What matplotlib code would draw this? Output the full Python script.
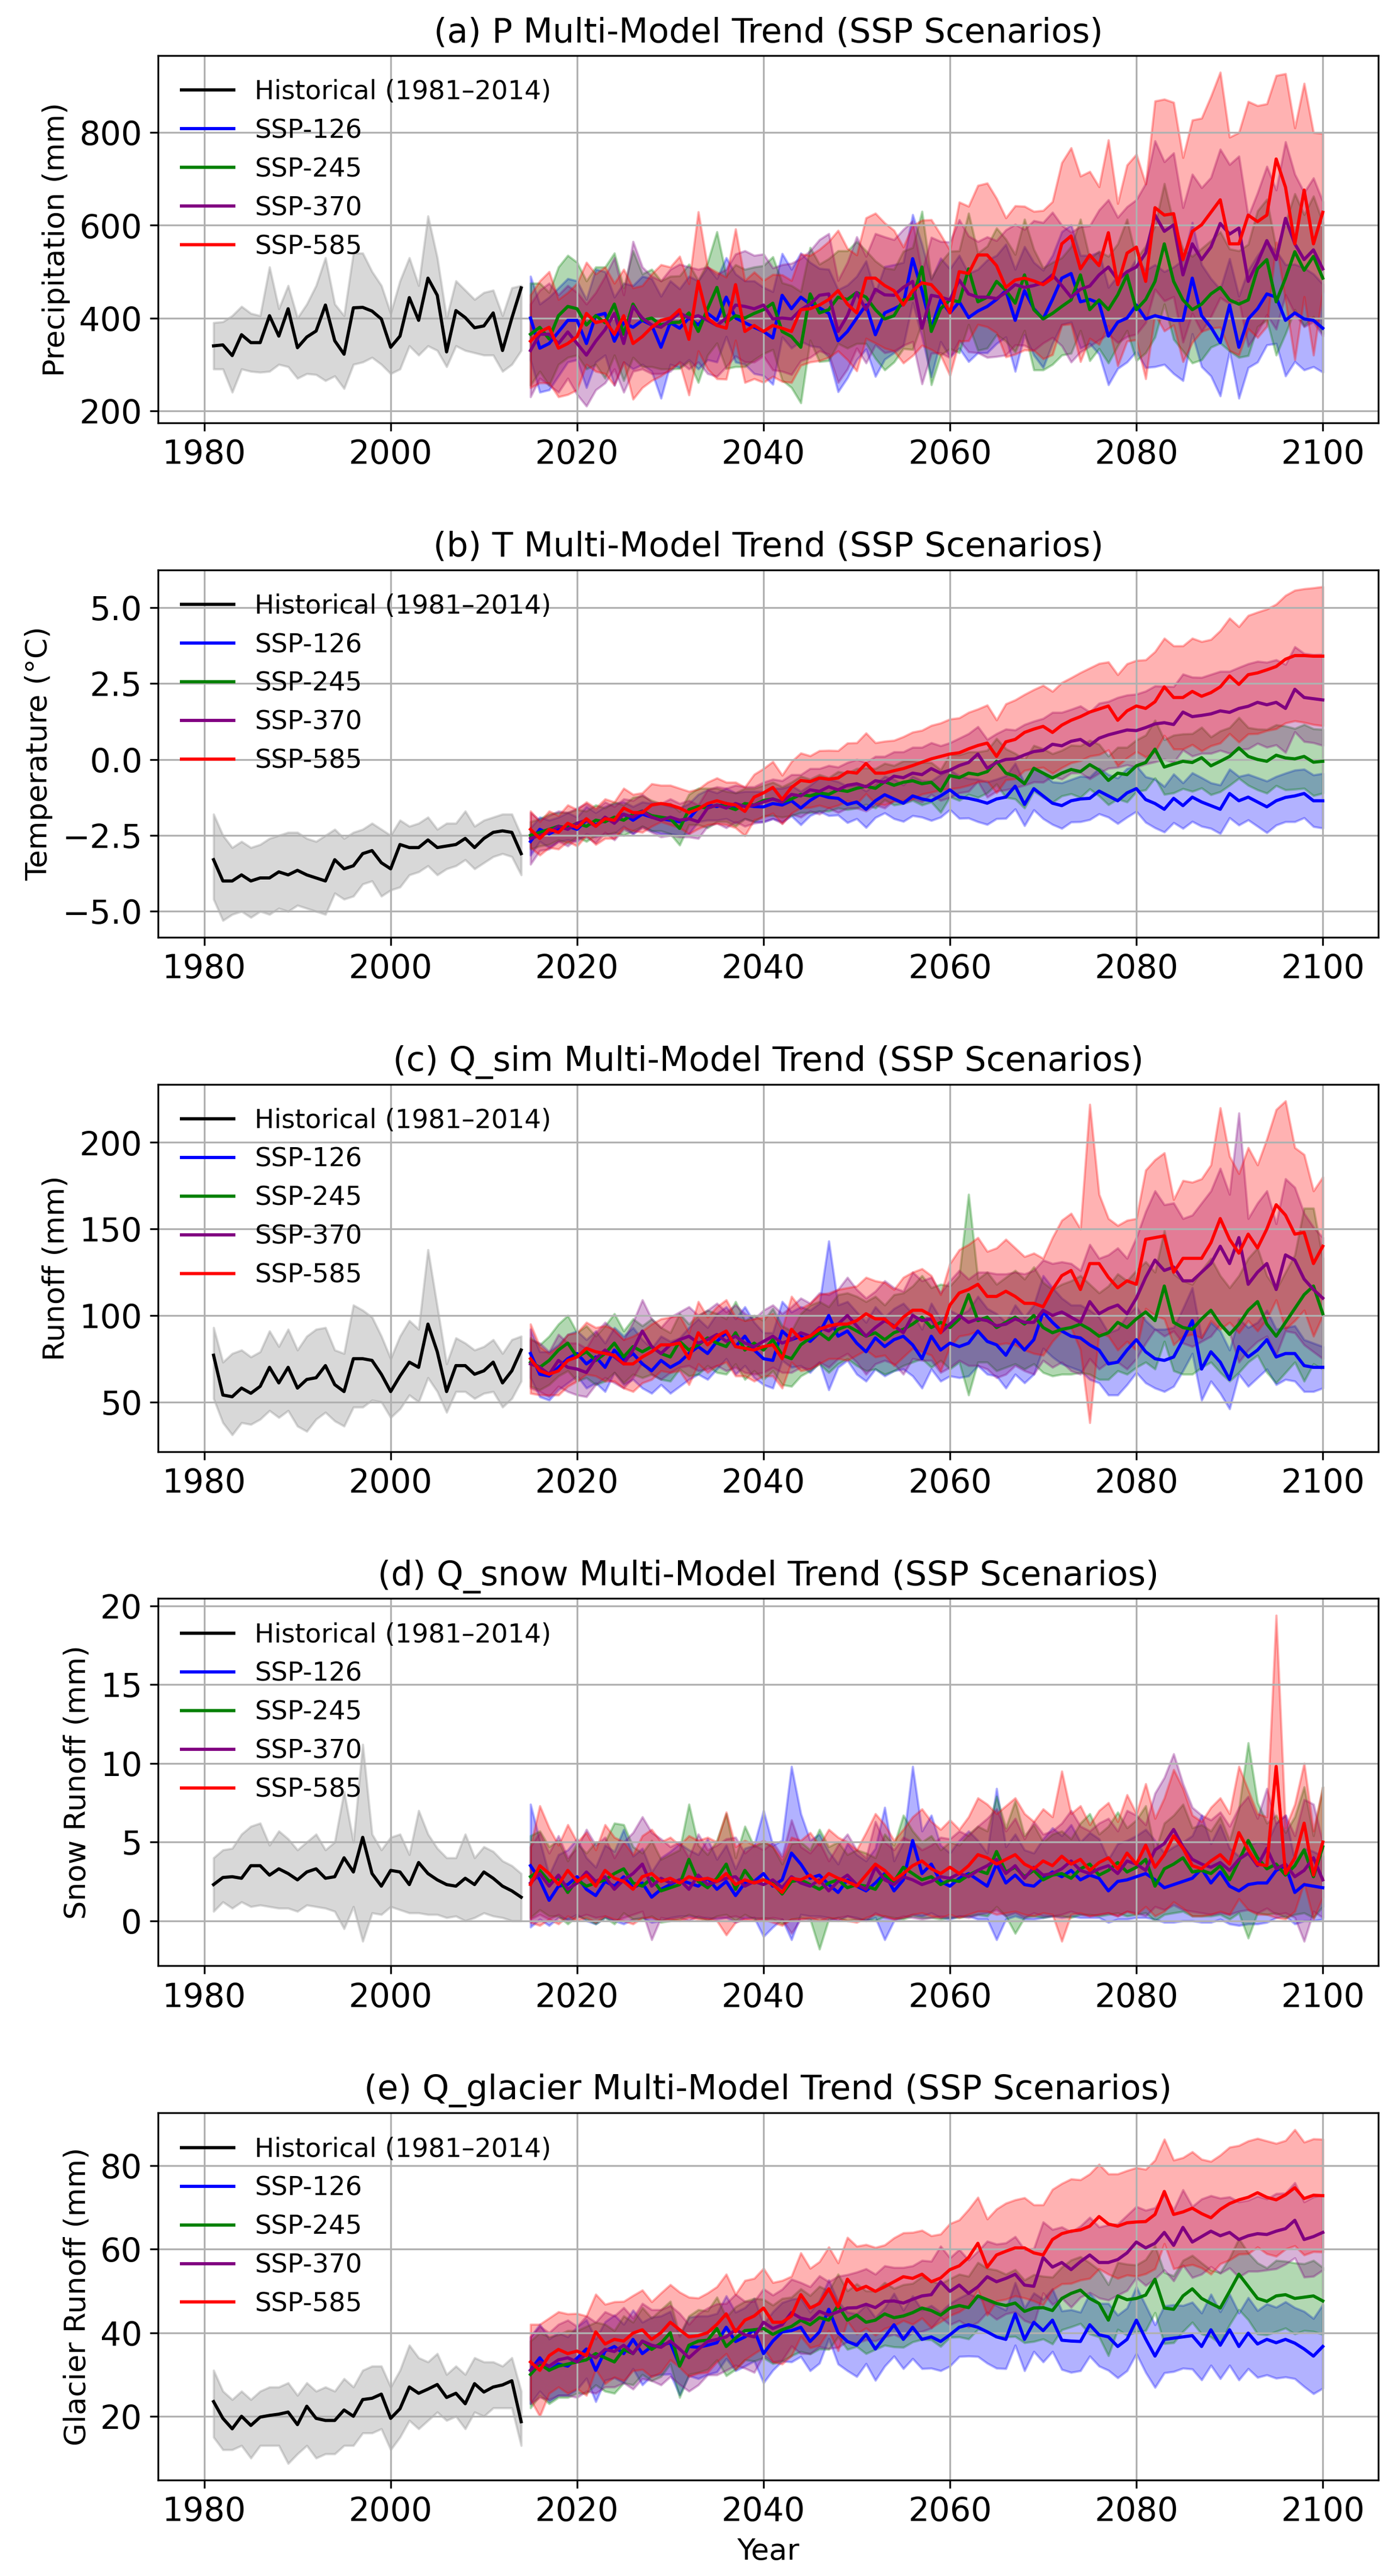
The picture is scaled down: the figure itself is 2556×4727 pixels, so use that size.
import numpy as np
import matplotlib
matplotlib.use("Agg")
import matplotlib.pyplot as plt

# years
years_hist = list(range(1981, 2015))
years_ssp = list(range(2015, 2101))
scenarios = ['SSP-126', 'SSP-245', 'SSP-370', 'SSP-585']
colors = ['blue', 'green', 'purple', 'red']

# ---------------- (a) precipitation ----------------
P_HIST = [340, 342, 319, 364, 347, 347, 405, 361, 420, 336, 359, 372, 428, 351, 322, 422, 423,
          415, 398, 337, 361, 444, 395, 486, 449, 327, 416, 401, 379, 383, 411, 330, 400, 465]
P_HIST_LO = [290, 290, 240, 290, 285, 283, 285, 300, 295, 270, 280, 278, 265, 275, 248, 300, 305,
             315, 300, 280, 290, 340, 320, 340, 330, 295, 340, 330, 325, 320, 320, 285, 300, 330]
P_HIST_HI = [390, 392, 405, 425, 410, 405, 510, 420, 470, 400, 430, 470, 530, 430, 405, 540, 540,
             500, 470, 410, 480, 530, 470, 620, 530, 400, 480, 460, 440, 455, 460, 405, 465, 470]

P_126 = [400, 335, 345, 370, 395, 395, 345, 405, 410, 350, 390, 380, 395, 385, 337, 390,
         378, 400, 385, 410, 395, 445, 400, 390, 380, 371,
         357, 449, 420, 445, 430, 422, 410, 351, 371, 400,
         428, 364, 411, 420, 430, 528, 459, 378, 439, 411,
         435, 401, 415, 425, 440, 459, 395, 459, 420, 398,
         440, 486, 496, 435, 440, 432, 361, 391, 400, 428,
         398, 405, 400, 395, 395, 486, 405, 380, 347, 428,
         337, 398, 420, 452, 445, 395, 411, 398, 395, 378]
P_245 = [365, 380, 355, 405, 425, 420, 385, 405, 390, 430, 365, 430, 395, 400, 385, 390,
         391, 411, 371, 420, 466, 391, 405, 400, 410, 418,
         432, 371, 360, 337, 452, 411, 418, 445, 440, 455,
         445, 418, 398, 405, 439, 442, 510, 371, 420, 439,
         435, 506, 435, 445, 479, 460, 432, 493, 418, 398,
         410, 425, 439, 493, 418, 439, 418, 450, 493, 418,
         440, 479, 560, 479, 439, 418, 430, 452, 466, 439,
         430, 439, 506, 526, 435, 486, 543, 503, 533, 486]
P_370 = [330, 365, 365, 345, 370, 345, 320, 350, 375, 410, 345, 425, 400, 385, 380, 395,
         411, 400, 405, 395, 384, 400, 428, 425, 420, 428,
         398, 400, 398, 418, 430, 449, 452, 371, 405, 455,
         418, 462, 450, 449, 466, 479, 378, 449, 445, 439,
         482, 452, 445, 445, 442, 455, 472, 466, 470, 476,
         493, 470, 445, 462, 469, 493, 510, 482, 500, 510,
         540, 622, 587, 601, 493, 560, 526, 553, 604, 581,
         594, 479, 520, 567, 526, 615, 560, 526, 547, 506]
P_585 = [350, 370, 380, 335, 345, 360, 410, 390, 395, 365, 405, 345, 360, 380, 395, 400,
         418, 354, 479, 400, 384, 378, 472, 371, 384, 371,
         384, 378, 371, 418, 420, 428, 440, 459, 430, 411,
         486, 486, 470, 459, 428, 459, 476, 472, 450, 411,
         500, 496, 536, 536, 513, 466, 482, 486, 480, 472,
         486, 560, 577, 506, 536, 513, 584, 472, 540, 553,
         479, 638, 622, 625, 526, 587, 601, 628, 655, 560,
         560, 622, 608, 622, 743, 682, 560, 676, 560, 628]

P_126_SP = [90, 95, 100, 95, 90, 85, 95, 100, 90, 95, 85, 90, 95, 100, 110, 90,
            85, 90, 95, 100, 90, 85, 95, 90, 100, 95,
            100, 90, 85, 95, 90, 85, 95, 110, 100, 90,
            95, 90, 100, 95, 90, 95, 100, 105, 90, 95,
            100, 95, 90, 100, 95, 100, 110, 95, 100, 105,
            95, 100, 105, 100, 95, 110, 105, 100, 95, 100,
            105, 110, 100, 115, 130, 120, 110, 105, 115, 100,
            110, 105, 115, 110, 100, 120, 105, 110, 100, 95]
P_245_SP = [110, 95, 100, 105, 110, 100, 95, 105, 120, 110, 100, 115, 100, 105, 95, 100,
            100, 105, 110, 100, 120, 100, 110, 105, 100, 95,
            100, 105, 110, 120, 100, 105, 110, 100, 105, 110,
            100, 105, 110, 100, 105, 110, 120, 115, 100, 105,
            110, 120, 105, 110, 115, 110, 105, 120, 130, 110,
            110, 105, 115, 120, 110, 105, 115, 110, 120, 110,
            115, 120, 130, 125, 110, 115, 120, 115, 120, 110,
            115, 120, 125, 130, 115, 120, 125, 120, 130, 120]
P_370_SP = [100, 95, 110, 105, 100, 110, 110, 105, 115, 120, 105, 140, 110, 105, 100, 110,
            105, 110, 100, 115, 110, 105, 110, 120, 115, 110,
            110, 115, 120, 110, 115, 120, 130, 110, 115, 120,
            115, 120, 125, 120, 125, 130, 120, 125, 120, 125,
            130, 125, 120, 130, 125, 135, 130, 125, 140, 130,
            135, 130, 140, 135, 130, 140, 145, 135, 140, 145,
            150, 160, 150, 155, 145, 150, 155, 150, 160, 150,
            155, 140, 150, 160, 150, 165, 150, 145, 155, 145]
P_585_SP = [100, 110, 120, 105, 110, 115, 110, 105, 115, 110, 100, 120, 110, 115, 120, 110,
            115, 120, 150, 110, 115, 110, 120, 110, 115, 110,
            110, 115, 110, 120, 115, 120, 125, 130, 120, 125,
            130, 140, 135, 130, 125, 140, 135, 140, 130, 135,
            150, 145, 150, 155, 145, 150, 160, 155, 150, 160,
            165, 175, 190, 200, 180, 170, 200, 175, 190, 200,
            210, 230, 250, 240, 220, 240, 230, 250, 275, 230,
            240, 245, 250, 240, 180, 245, 250, 230, 240, 170]

# ---------------- (b) temperature ----------------
T_HIST = [-3.3, -4.0, -4.0, -3.8, -4.0, -3.9, -3.9, -3.7, -3.8, -3.65, -3.8, -3.9, -4.0, -3.3,
          -3.6, -3.5, -3.1, -3.0, -3.4, -3.6, -2.8, -2.9, -2.9, -2.65, -2.9, -2.85, -2.8, -2.6,
          -2.9, -2.6, -2.4, -2.35, -2.4, -3.1]
T_HIST_LO = [-4.6, -5.3, -5.1, -5.0, -5.2, -5.0, -5.1, -4.9, -5.0, -4.8, -4.9, -5.0, -5.1, -4.4,
             -4.6, -4.5, -4.1, -4.0, -4.5, -4.3, -4.2, -3.8, -3.7, -3.5, -3.8, -3.6, -3.5, -3.3,
             -3.6, -3.4, -3.2, -3.1, -3.2, -3.8]
T_HIST_HI = [-1.8, -2.5, -2.9, -2.7, -2.9, -2.8, -2.6, -2.5, -2.4, -2.4, -2.6, -2.7, -2.5, -2.3,
             -2.6, -2.4, -2.3, -2.1, -2.3, -2.5, -2.0, -2.2, -2.1, -1.9, -2.3, -2.1, -2.1, -1.7,
             -2.2, -2.0, -1.9, -1.8, -1.8, -2.5]

T_126 = [-2.7, -2.3, -2.45, -2.3, -2.2, -2.3, -2.0, -2.15, -2.0, -1.95, -1.8, -2.0, -1.8, -1.9, -1.95, -2.0,
         -2.05, -1.95, -1.6, -1.5, -1.55, -1.45, -1.6, -1.5, -1.55, -1.56,
         -1.45, -1.5, -1.36, -1.6, -1.35, -1.16, -1.25, -1.28, -1.48, -1.4,
         -1.64, -1.36, -1.16, -1.3, -1.44, -1.2, -1.3, -1.36, -1.2, -1.0,
         -1.24, -1.28, -1.35, -1.44, -1.3, -1.24, -0.88, -1.48, -0.96, -1.2,
         -1.44, -1.52, -1.36, -1.3, -1.28, -1.04, -1.2, -1.36, -1.1, -0.96,
         -1.32, -1.45, -1.64, -1.28, -1.52, -1.24, -1.4, -1.52, -1.64, -1.12,
         -1.36, -1.24, -1.4, -1.56, -1.36, -1.25, -1.2, -1.12, -1.36, -1.36]
T_245 = [-2.5, -2.4, -2.3, -2.2, -2.25, -2.1, -2.2, -2.0, -2.05, -1.9, -2.0, -1.8, -1.7, -1.85, -1.9, -1.95,
         -2.27, -1.65, -1.55, -1.6, -1.5, -1.55, -1.65, -1.45, -1.5, -1.35,
         -1.3, -1.4, -1.3, -1.15, -1.2, -1.1, -1.15, -1.0, -1.05, -0.95,
         -0.88, -0.95, -0.73, -0.85, -0.75, -0.7, -0.8, -0.75, -1.04, -0.53,
         -0.6, -0.45, -0.5, -0.4, -0.06, -0.45, -0.55, -0.8, -0.29, -0.45,
         -0.61, -0.45, -0.33, -0.4, -0.17, -0.35, -0.69, -0.45, -0.5, -0.21,
         -0.1, 0.34, -0.25, -0.15, -0.06, -0.1, 0.06, -0.21, -0.06, 0.1,
         0.38, 0.10, 0.0, -0.06, 0.14, 0.05, 0.02, 0.1, -0.09, -0.06]
T_370 = [-2.6, -2.5, -2.4, -2.2, -2.3, -2.1, -2.0, -2.2, -1.9, -2.1, -1.8, -1.9, -1.7, -1.9, -2.0, -1.9,
         -2.0, -1.95, -2.05, -1.6, -1.5, -1.6, -1.45, -1.55, -1.5, -1.4,
         -1.3, -1.4, -1.15, -1.2, -1.0, -1.05, -0.9, -1.0, -0.85, -0.8,
         -0.9, -0.7, -0.75, -0.55, -0.6, -0.45, -0.5, -0.3, -0.45, -0.35,
         -0.2, -0.1, 0.18, -0.29, -0.1, 0.0, 0.02, 0.15, 0.26, 0.3,
         0.5, 0.45, 0.6, 0.66, 0.46, 0.7, 0.81, 0.89, 0.97, 0.95,
         1.05, 1.17, 1.21, 1.15, 1.56, 1.41, 1.45, 1.5, 1.6, 1.55,
         1.68, 1.75, 1.88, 1.8, 1.88, 1.68, 2.31, 2.04, 2.0, 1.96]
T_585 = [-2.3, -2.6, -2.3, -2.4, -2.1, -2.25, -1.95, -2.2, -1.95, -2.0, -1.6, -1.75, -1.75, -1.5, -1.45, -1.5,
         -1.6, -1.75, -1.63, -1.45, -1.36, -1.45, -1.5, -1.71, -1.24, -1.1,
         -0.92, -1.32, -0.92, -0.69, -0.73, -0.61, -0.65, -0.61, -0.41, -0.45,
         -0.13, -0.45, -0.45, -0.37, -0.3, -0.2, -0.09, 0.02, 0.1, 0.18,
         0.22, 0.35, 0.46, 0.54, 0.1, 0.58, 0.66, 0.89, 1.0, 1.09,
         0.89, 1.13, 1.29, 1.41, 1.56, 1.66, 1.76, 1.29, 1.6, 1.76,
         1.68, 1.9, 2.39, 2.04, 2.04, 2.24, 2.08, 2.2, 2.39, 2.75,
         2.47, 2.79, 2.85, 2.95, 3.06, 3.3, 3.42, 3.42, 3.4, 3.4]

T_126_SP = [0.45, 0.4, 0.45, 0.4, 0.45, 0.4, 0.45, 0.4, 0.45, 0.5, 0.4, 0.45, 0.4, 0.45, 0.5, 0.45,
            0.45, 0.5, 0.45, 0.5, 0.45, 0.5, 0.5, 0.45, 0.5, 0.5,
            0.5, 0.55, 0.5, 0.55, 0.5, 0.55, 0.6, 0.55, 0.6, 0.55,
            0.6, 0.55, 0.6, 0.65, 0.6, 0.65, 0.6, 0.65, 0.7, 0.65,
            0.7, 0.65, 0.7, 0.7, 0.65, 0.7, 0.75, 0.7, 0.7, 0.75,
            0.7, 0.75, 0.7, 0.75, 0.7, 0.75, 0.7, 0.75, 0.8, 0.75,
            0.75, 0.8, 0.75, 0.8, 0.75, 0.8, 0.8, 0.75, 0.8, 0.8,
            0.8, 0.75, 0.8, 0.85, 0.8, 0.8, 0.85, 0.8, 0.85, 0.9]
T_245_SP = [0.45, 0.45, 0.5, 0.45, 0.5, 0.45, 0.5, 0.5, 0.45, 0.5, 0.5, 0.55, 0.5, 0.5, 0.45, 0.5,
            0.55, 0.5, 0.6, 0.65, 0.55, 0.5, 0.55, 0.5, 0.55, 0.5,
            0.55, 0.5, 0.55, 0.6, 0.55, 0.6, 0.55, 0.6, 0.6, 0.65,
            0.6, 0.65, 0.6, 0.65, 0.7, 0.65, 0.7, 0.65, 0.7, 0.7,
            0.75, 0.7, 0.75, 0.7, 0.75, 0.8, 0.75, 0.8, 0.75, 0.8,
            0.8, 0.75, 0.8, 0.85, 0.8, 0.85, 0.8, 0.85, 0.9, 0.85,
            0.9, 0.95, 0.9, 0.95, 0.9, 0.95, 1.0, 0.95, 1.0, 0.95,
            1.0, 0.95, 1.0, 1.05, 1.0, 1.05, 1.0, 1.05, 1.1, 1.05]
T_370_SP = [0.85, 0.5, 0.55, 0.5, 0.55, 0.5, 0.55, 0.55, 0.5, 0.55, 0.5, 0.55, 0.55, 0.5, 0.55, 0.6,
            0.55, 0.6, 0.55, 0.6, 0.6, 0.65, 0.6, 0.65, 0.6, 0.65,
            0.65, 0.7, 0.65, 0.7, 0.7, 0.75, 0.7, 0.75, 0.75, 0.8,
            0.8, 0.8, 0.85, 0.8, 0.85, 0.85, 0.9, 0.85, 0.9, 0.9,
            0.9, 0.95, 0.9, 0.95, 0.95, 1.0, 0.95, 1.0, 1.0, 1.05,
            1.05, 1.1, 1.05, 1.1, 1.1, 1.15, 1.1, 1.15, 1.15, 1.2,
            1.2, 1.25, 1.2, 1.25, 1.25, 1.3, 1.25, 1.3, 1.3, 1.35,
            1.35, 1.4, 1.35, 1.4, 1.4, 1.45, 1.4, 1.45, 1.45, 1.5]
T_585_SP = [0.6, 0.55, 0.6, 0.55, 0.6, 0.6, 0.55, 0.6, 0.65, 0.6, 0.65, 0.6, 0.65, 0.7, 0.6, 0.65,
            0.65, 0.7, 0.65, 0.7, 0.75, 0.7, 0.75, 0.8, 0.75, 0.8,
            0.85, 0.8, 0.85, 0.9, 0.85, 0.9, 0.95, 0.9, 0.95, 1.0,
            1.0, 1.0, 1.05, 1.0, 1.05, 1.1, 1.05, 1.1, 1.1, 1.15,
            1.15, 1.2, 1.2, 1.25, 1.2, 1.25, 1.3, 1.25, 1.3, 1.35,
            1.35, 1.4, 1.4, 1.45, 1.45, 1.5, 1.45, 1.5, 1.55, 1.5,
            1.6, 1.65, 1.6, 1.7, 1.7, 1.75, 1.8, 1.75, 1.85, 1.9,
            1.9, 1.95, 2.0, 2.0, 2.05, 2.1, 2.15, 2.2, 2.25, 2.29]

# ---------------- (c) total runoff ----------------
Q_HIST = [77, 54, 53, 58, 55, 59, 70, 61, 70, 58, 63, 64, 71, 60, 56, 75, 75,
          74, 66, 56, 65, 73, 70, 95, 79, 56, 71, 71, 66, 68, 73, 61, 68, 80]
Q_HIST_LO = [52, 38, 31, 38, 37, 40, 45, 41, 45, 36, 33, 40, 44, 39, 36, 47, 47,
             51, 50, 41, 46, 54, 50, 64, 56, 44, 56, 56, 52, 55, 56, 47, 52, 62]
Q_HIST_HI = [93, 73, 78, 80, 76, 79, 91, 82, 92, 80, 88, 92, 93, 80, 78, 106, 103,
             99, 88, 75, 88, 97, 92, 138, 105, 72, 87, 84, 80, 82, 86, 78, 86, 88]

Q_126 = [78, 66, 65, 70, 75, 78, 72, 76, 70, 80, 74, 78, 72, 68, 74, 70,
         73, 78, 82, 78, 85, 90, 82, 88, 80, 75,
         74, 91, 86, 88, 85, 90, 100, 88, 91, 84,
         79, 87, 82, 86, 88, 83, 75, 88, 80, 84,
         82, 84, 91, 85, 83, 77, 86, 80, 86, 102,
         96, 91, 88, 87, 83, 80, 72, 73, 80, 86,
         79, 75, 74, 76, 86, 97, 69, 79, 73, 63,
         82, 76, 80, 86, 76, 78, 78, 71, 70, 70]
Q_245 = [73, 70, 74, 80, 84, 76, 79, 74, 78, 84, 76, 82, 79, 82, 78, 76,
         85, 80, 83, 87, 84, 82, 90, 80, 84, 80,
         86, 77, 75, 83, 87, 90, 86, 92, 94, 91,
         88, 90, 86, 90, 92, 95, 99, 93, 96, 93,
         98, 112, 97, 99, 93, 96, 99, 95, 100, 93,
         90, 92, 93, 95, 92, 88, 90, 96, 93, 98,
         102, 97, 117, 96, 93, 92, 98, 103, 95, 89,
         95, 103, 108, 95, 88, 96, 104, 112, 117, 101]
Q_370 = [72, 70, 66, 74, 70, 69, 67, 75, 80, 76, 72, 80, 91, 82, 78, 83,
         86, 88, 84, 86, 89, 85, 88, 84, 82, 85,
         88, 84, 86, 90, 88, 93, 91, 95, 100, 94,
         88, 93, 97, 94, 90, 100, 97, 98, 90, 95,
         100, 96, 98, 97, 94, 95, 98, 96, 96, 103,
         100, 102, 99, 96, 108, 101, 104, 106, 101, 110,
         122, 132, 126, 128, 120, 120, 125, 130, 140, 130,
         145, 118, 125, 130, 115, 135, 132, 121, 115, 110]
Q_585 = [75, 68, 66, 68, 74, 76, 81, 79, 78, 77, 72, 72, 76, 79, 83, 83,
         84, 75, 90, 83, 88, 91, 82, 81, 80, 82,
         83, 75, 92, 86, 88, 92, 94, 95, 95, 97,
         101, 98, 98, 93, 99, 103, 103, 100, 90, 106,
         113, 115, 118, 111, 111, 114, 111, 107, 107, 105,
         115, 123, 126, 115, 130, 130, 122, 116, 120, 118,
         144, 145, 146, 125, 133, 133, 133, 142, 156, 144,
         136, 147, 139, 150, 164, 158, 147, 148, 130, 140]

Q_126_SP = [14, 13, 14, 13, 14, 13, 14, 15, 14, 13, 14, 15, 14, 13, 14, 15,
            14, 15, 16, 15, 16, 15, 16, 17, 16, 15,
            16, 17, 16, 17, 18, 17, 43, 18, 17, 18,
            17, 18, 17, 18, 19, 18, 17, 19, 18, 19,
            18, 19, 20, 19, 18, 19, 20, 19, 20, 21,
            20, 19, 18, 19, 20, 19, 18, 19, 20, 19,
            18, 17, 18, 17, 18, 19, 18, 17, 18, 17,
            16, 17, 16, 17, 16, 15, 16, 15, 14, 12]
Q_245_SP = [14, 13, 14, 15, 16, 14, 15, 14, 16, 17, 15, 16, 15, 16, 15, 14,
            16, 15, 17, 16, 17, 16, 18, 17, 16, 17,
            18, 17, 16, 18, 19, 18, 19, 20, 19, 20,
            20, 21, 20, 22, 21, 22, 24, 23, 22, 24,
            25, 58, 24, 26, 25, 26, 27, 26, 28, 26,
            25, 26, 27, 28, 26, 25, 27, 28, 27, 28,
            29, 28, 32, 28, 27, 26, 28, 30, 28, 27,
            28, 30, 31, 28, 27, 29, 31, 50, 45, 32]
Q_370_SP = [14, 14, 13, 15, 14, 15, 14, 15, 16, 15, 14, 16, 18, 16, 15, 16,
            16, 17, 16, 17, 18, 17, 18, 17, 16, 18,
            18, 17, 19, 20, 19, 20, 21, 20, 22, 21,
            22, 21, 23, 22, 24, 25, 23, 24, 23, 25,
            26, 25, 27, 28, 30, 29, 27, 28, 30, 29,
            30, 29, 31, 30, 33, 32, 31, 33, 32, 35,
            38, 40, 38, 37, 36, 38, 40, 42, 45, 40,
            72, 38, 40, 42, 38, 44, 42, 38, 36, 35]
Q_585_SP = [20, 14, 12, 14, 15, 14, 15, 14, 16, 15, 14, 16, 15, 16, 15, 16,
            16, 15, 18, 16, 17, 18, 17, 16, 18, 17,
            18, 17, 19, 18, 19, 20, 19, 20, 21, 20,
            21, 22, 21, 22, 23, 22, 24, 23, 22, 24,
            25, 26, 27, 26, 28, 30, 28, 27, 29, 28,
            30, 32, 33, 35, 92, 40, 34, 36, 35, 38,
            40, 45, 48, 42, 45, 44, 46, 45, 64, 48,
            46, 50, 48, 52, 55, 66, 50, 45, 42, 40]

# ---------------- (d) snow runoff ----------------
S_HIST = [2.3, 2.75, 2.8, 2.7, 3.5, 3.5, 2.9, 3.3, 3.0, 2.6, 3.1, 3.3, 2.7, 2.8, 4.0, 3.1, 5.3,
          3.0, 2.2, 3.2, 3.1, 2.3, 3.7, 3.0, 2.6, 2.3, 2.2, 2.7, 2.3, 3.1, 2.7, 2.2, 1.9, 1.5]
S_HIST_LO = [0.6, 1.2, 0.8, 1.2, 0.9, 1.0, 0.9, 0.8, 0.8, 0.6, 1.0, 0.9, 0.8, 0.6, -0.5, 0.9, -1.3,
             0.5, 0.4, 0.9, 0.7, 0.5, 0.5, 0.4, 0.4, 0.2, 0.3, 0.0, 0.2, 0.5, 0.3, 0.2, 0.0, 0.0]
S_HIST_HI = [4.0, 4.5, 4.6, 5.5, 6.0, 6.2, 4.8, 5.7, 5.2, 4.5, 5.0, 5.5, 4.5, 5.0, 8.2, 5.0, 11.2,
             5.5, 4.5, 5.3, 5.5, 4.2, 7.0, 5.5, 4.6, 4.0, 4.0, 5.5, 4.0, 4.7, 4.4, 3.8, 3.5, 3.0]

S_126 = [3.5, 2.6, 1.3, 2.2, 2.3, 2.8, 2.0, 1.6, 2.5, 2.2, 2.8, 2.1, 2.4, 1.5, 2.0, 2.3,
         2.6, 2.4, 2.2, 2.7, 2.0, 2.5, 1.6, 2.4, 2.5, 3.0,
         2.2, 2.6, 4.3, 3.6, 2.7, 2.9, 2.3, 1.8, 2.6, 2.2,
         1.9, 2.4, 3.0, 1.9, 2.6, 5.1, 3.0, 3.6, 2.5, 2.2,
         2.7, 3.0, 2.6, 2.2, 3.6, 2.4, 2.9, 2.3, 2.2, 2.7,
         3.1, 2.8, 3.2, 2.6, 2.9, 2.7, 1.9, 2.5, 2.6, 2.8,
         3.0, 2.6, 2.1, 2.3, 2.5, 2.7, 3.3, 2.4, 3.1, 2.2,
         1.9, 2.3, 2.4, 2.4, 3.2, 3.5, 1.8, 2.3, 2.2, 2.1]
S_245 = [2.8, 3.2, 2.5, 2.7, 1.8, 2.6, 2.2, 2.4, 2.6, 3.0, 3.3, 2.4, 2.2, 2.7, 1.9, 2.1,
         2.3, 3.9, 2.5, 2.1, 2.7, 3.6, 2.0, 3.2, 2.4, 2.6,
         2.4, 1.7, 2.5, 2.6, 2.3, 2.0, 2.4, 2.6, 2.1, 2.3,
         2.2, 2.0, 2.9, 2.5, 3.4, 3.0, 2.6, 2.8, 2.3, 2.6,
         2.5, 2.9, 3.2, 3.0, 4.4, 3.1, 3.4, 2.8, 3.2, 2.6,
         2.9, 3.0, 2.7, 3.3, 3.6, 2.9, 3.2, 3.7, 3.1, 3.4,
         3.9, 2.2, 3.3, 3.6, 4.0, 3.1, 3.2, 3.0, 3.5, 2.6,
         3.8, 5.1, 4.0, 3.3, 3.6, 2.9, 3.5, 4.5, 2.8, 4.7]
S_370 = [2.4, 3.0, 2.2, 2.9, 2.0, 2.4, 3.1, 2.5, 2.8, 2.0, 2.6, 3.0, 3.6, 2.2, 2.7, 2.4,
         2.6, 2.0, 2.9, 2.3, 2.5, 2.7, 2.8, 2.2, 2.5, 2.3,
         2.6, 2.1, 2.8, 2.4, 2.2, 2.6, 1.9, 2.5, 2.9, 2.3,
         2.0, 3.4, 2.6, 2.3, 2.8, 2.6, 2.3, 2.5, 2.8, 2.7,
         3.0, 2.8, 3.2, 3.5, 3.9, 3.0, 3.5, 2.7, 3.4, 2.9,
         3.0, 3.3, 3.8, 3.2, 3.0, 3.3, 3.5, 3.0, 3.8, 3.6,
         3.2, 4.5, 4.9, 5.8, 4.7, 3.9, 3.6, 3.4, 3.7, 3.2,
         3.9, 4.3, 3.5, 4.6, 3.3, 3.6, 2.8, 3.2, 4.0, 2.6]
S_585 = [2.3, 3.5, 3.0, 2.3, 3.2, 2.5, 2.9, 2.2, 3.2, 2.7, 2.5, 2.0, 2.8, 3.0, 2.5, 2.7,
         2.4, 2.8, 2.6, 2.7, 2.5, 3.0, 2.3, 2.6, 2.4, 2.6,
         2.3, 1.8, 2.7, 2.6, 2.9, 2.4, 3.0, 2.7, 2.5, 2.2,
         2.9, 3.6, 3.2, 2.6, 3.0, 3.5, 3.8, 3.3, 3.0, 3.4,
         3.0, 3.5, 4.2, 4.0, 3.6, 3.9, 4.2, 3.6, 3.3, 3.8,
         3.5, 4.1, 3.6, 3.9, 3.2, 3.7, 4.0, 3.3, 4.3, 3.6,
         4.8, 3.4, 4.2, 5.4, 4.6, 3.5, 3.3, 3.8, 4.2, 3.6,
         5.6, 4.5, 3.6, 3.5, 9.8, 3.0, 4.0, 6.2, 2.9, 5.0]

S_126_SP = [3.9, 2.5, 1.6, 2.0, 2.2, 2.4, 2.0, 1.8, 2.3, 2.2, 3.0, 2.0, 2.2, 1.6, 2.0, 2.1,
            2.3, 2.1, 2.0, 2.5, 1.9, 2.3, 1.7, 2.2, 2.3, 4.0,
            2.6, 2.5, 5.5, 3.2, 2.4, 2.6, 2.1, 1.8, 2.3, 2.0,
            1.9, 2.2, 4.2, 1.9, 2.4, 4.7, 2.7, 3.1, 2.3, 2.1,
            2.4, 2.7, 2.5, 2.1, 4.8, 2.3, 2.6, 2.2, 2.1, 2.5,
            2.8, 2.6, 2.9, 2.4, 2.7, 2.5, 2.0, 2.4, 2.5, 2.6,
            2.8, 2.5, 2.2, 2.4, 2.5, 2.7, 3.4, 2.5, 3.0, 2.4,
            2.2, 2.5, 2.6, 2.5, 3.0, 3.2, 2.0, 2.3, 2.2, 2.0]
S_245_SP = [2.6, 2.5, 2.2, 2.4, 2.0, 2.3, 2.1, 2.6, 2.4, 3.2, 2.8, 2.3, 2.1, 2.4, 2.0, 2.1,
            2.2, 3.5, 2.3, 2.1, 2.4, 3.2, 2.0, 2.8, 2.3, 2.4,
            2.3, 1.9, 2.4, 2.4, 2.2, 3.8, 2.3, 2.4, 2.1, 2.2,
            2.1, 2.0, 2.6, 2.3, 3.3, 2.7, 2.4, 2.6, 2.2, 2.4,
            2.3, 2.6, 2.8, 2.7, 3.5, 2.8, 4.2, 2.6, 2.9, 2.4,
            2.6, 2.7, 2.5, 2.9, 3.2, 2.6, 2.8, 3.2, 2.8, 3.0,
            3.4, 2.2, 2.9, 3.1, 3.4, 2.8, 2.9, 2.7, 3.1, 2.5,
            3.3, 6.2, 3.5, 2.9, 3.1, 2.7, 3.1, 4.0, 2.6, 3.8]
S_370_SP = [2.3, 2.6, 2.1, 2.5, 2.0, 2.2, 2.7, 2.3, 2.5, 2.0, 2.4, 2.6, 3.0, 3.4, 2.5, 2.3,
            2.4, 2.0, 2.6, 2.2, 2.3, 2.5, 2.5, 2.1, 2.3, 2.2,
            2.4, 2.0, 3.6, 2.3, 2.1, 2.4, 1.9, 2.3, 2.6, 2.2,
            2.0, 2.9, 2.4, 2.2, 2.5, 2.4, 2.2, 2.3, 2.5, 2.5,
            2.7, 2.6, 2.8, 3.0, 3.2, 2.7, 3.0, 2.5, 2.9, 2.6,
            2.7, 2.9, 3.2, 2.8, 2.7, 2.9, 3.0, 2.7, 3.2, 3.1,
            2.9, 3.6, 4.2, 4.8, 4.0, 3.3, 3.1, 3.0, 3.2, 2.8,
            3.3, 3.6, 3.0, 3.8, 2.9, 3.1, 2.6, 4.5, 3.4, 2.4]
S_585_SP = [2.4, 3.8, 2.9, 2.5, 2.9, 2.5, 2.7, 2.3, 2.9, 2.6, 2.5, 2.2, 2.6, 2.8, 2.5, 2.6,
            2.4, 2.6, 2.5, 2.6, 2.5, 3.9, 2.4, 2.5, 2.4, 2.5,
            2.4, 2.1, 2.6, 2.5, 2.7, 2.4, 2.8, 2.6, 2.5, 2.3,
            2.7, 3.2, 2.9, 2.5, 2.8, 3.1, 3.3, 3.0, 2.8, 3.0,
            2.8, 3.1, 3.6, 3.4, 3.2, 3.4, 3.6, 3.2, 3.0, 3.3,
            3.1, 5.4, 3.2, 3.4, 2.9, 3.3, 3.5, 3.0, 3.7, 3.2,
            3.9, 3.1, 3.6, 4.2, 3.8, 3.2, 3.0, 3.4, 3.6, 3.2,
            4.2, 3.8, 3.2, 3.1, 9.6, 2.9, 3.4, 3.8, 2.8, 3.5]

# ---------------- (e) glacier runoff ----------------
G_HIST = [23.5, 19.5, 17, 20, 17.8, 19.8, 20.2, 20.5, 21, 18, 22.4, 19.5, 19, 19, 21.5, 20, 24,
          24.3, 25.3, 19.5, 21.8, 27, 25.5, 26.5, 27.6, 24.5, 25.5, 23, 27.8, 25.8, 27, 27.5, 28.5, 18.7]
G_HIST_LO = [15, 12, 12, 13, 10, 13, 13, 13, 8.7, 11, 13, 10, 11, 11, 13, 13, 16,
             16, 17, 12, 15, 19, 17, 19, 21, 19, 20, 17, 21, 20, 22, 22, 22, 13]
G_HIST_HI = [31, 26, 24, 26, 24, 26, 27, 27, 28, 25, 28, 26, 27, 26, 29, 27, 31,
             32, 32, 27, 31, 37, 34, 33, 35, 30, 32, 30, 34, 33, 33, 32, 34, 26]

G_126 = [31, 34, 31, 32.5, 32, 33.9, 36.1, 31, 35.6, 36.7, 35, 38.4, 35, 36.7, 37, 37.6,
         32.1, 36.7, 36.5, 37, 37.6, 41.3, 37.9, 39, 40.7, 35,
         38, 40.2, 40.5, 41.3, 37.9, 40.2, 45.6, 40, 37.9, 37,
         39.6, 36.1, 39, 41.9, 38.4, 41.3, 38.4, 39, 37.9, 39.5,
         41.3, 41.9, 41.3, 40.2, 39, 38.4, 44.5, 38.4, 42.5, 40.5,
         43, 38.2, 38, 37.9, 41.9, 39.5, 39, 36.7, 38.4, 43,
         38.5, 34.4, 38.4, 38.7, 39, 39.3, 36.7, 40.7, 37, 40.7,
         36.7, 39.9, 37.3, 38.4, 37.6, 38.4, 37.5, 36.1, 34.4, 36.7]
G_245 = [30, 32.5, 31, 32, 32.5, 33, 33.5, 35, 34, 33, 36, 35, 38, 36, 37.5, 40,
         32, 37, 38, 38.2, 41, 36.7, 38.7, 40.5, 40.7, 41,
         39.6, 40.7, 41.5, 43, 41.9, 43.6, 43, 46.5, 43, 44.2,
         42.5, 43, 44.5, 43.6, 44, 44.8, 45.9, 45.3, 44.2, 45.9,
         46.5, 46, 48.8, 47.9, 47, 46.5, 47.1, 45.1, 45.9, 46,
         45.3, 48.2, 49.4, 50.2, 48.2, 47, 43, 48.8, 47.9, 48.2,
         49, 52.8, 45.9, 45.6, 48.8, 50.5, 48.2, 47, 45.9, 49.9,
         54, 51.1, 48.2, 47.5, 48.8, 49.1, 48.2, 48.5, 48.8, 47.6]
G_370 = [31, 33, 32, 33.5, 34, 33, 35, 34, 36, 35.5, 37, 35, 38, 37, 36.5, 38,
         36.1, 34, 36, 37.9, 38.4, 39, 40.7, 39.5, 39, 42.5,
         41, 41.9, 44.8, 43.5, 43, 45.1, 44.2, 45, 45.9, 46,
         46.8, 46, 47.5, 47.6, 47.1, 48, 48.8, 49.1, 52.2, 49.9,
         51.4, 49.4, 51, 53.4, 52.2, 53, 54, 51.4, 51.1, 58,
         55.7, 56.8, 55.1, 57, 58.6, 56.8, 56.8, 57.5, 59.1, 61.7,
         60.3, 61.4, 64, 60.9, 65.2, 61.7, 63, 64.3, 63.2, 64,
         62.3, 63.2, 63.7, 63.5, 64.3, 64.9, 66.9, 62.3, 63, 64]
G_585 = [33, 31, 34.5, 36, 35, 35.6, 34.5, 40.2, 37.3, 38.4, 38, 39.9, 40.7, 38.4, 40, 42.5,
         40.7, 39, 39.3, 40, 42, 44.5, 40.2, 43, 44, 45.9,
         42.5, 42.5, 44, 49.1, 45.9, 47, 50.5, 46.2, 52.8, 50.2,
         51.1, 49.9, 51, 52.2, 53.4, 53, 54, 52.2, 53.1, 55.1,
         56, 58, 61.4, 55.7, 58.6, 59.5, 60.3, 60.3, 59.1, 58.6,
         62.3, 63.7, 64.3, 64.6, 65.5, 67.8, 66, 65.5, 66.3, 66.5,
         66.6, 68.3, 73.8, 68.3, 68.9, 69.8, 68.5, 67.5, 69.5, 70.9,
         71.8, 72.4, 73.5, 72.4, 71.8, 73, 74.7, 72.1, 72.9, 72.8]

G_126_SP = [8, 8, 7.5, 7.5, 7, 7.5, 7, 7.5, 7, 7.5, 7, 7, 7.5, 7, 7, 7.5,
            7, 7, 7.5, 7, 7, 7.5, 7, 7, 7.5, 7,
            7, 7, 7.5, 7, 7, 7.5, 7, 7.5, 7, 7.5,
            7, 7.5, 7, 7.5, 7, 7.5, 7, 7.5, 7, 7.5,
            7, 7.5, 7, 7.5, 7.5, 7, 7.5, 7.5, 7, 7.5,
            7.5, 7, 7.5, 7, 7.5, 7.5, 8, 7.5, 7.5, 8,
            8, 7.5, 8, 8, 7.5, 8, 8, 8.5, 8, 8.5,
            8, 8.5, 8, 8.5, 8.5, 9, 8.5, 9, 9, 10]
G_245_SP = [8, 7.5, 8, 7.5, 8, 7.5, 8, 7.5, 8, 7.5, 8, 7.5, 8, 7.5, 8, 7.5,
            7.5, 7, 7.5, 7, 7.5, 7, 7.5, 7, 7.5, 7,
            7, 7.5, 7, 7.5, 7, 7.5, 7, 7.5, 7, 7.5,
            7.5, 7, 7.5, 7, 7.5, 7, 7.5, 7, 7.5, 7,
            7.5, 7.5, 8, 7.5, 8, 7.5, 8, 7.5, 8, 7.5,
            8, 7.5, 8, 8, 8.5, 8, 8.5, 8, 8.5, 8,
            8.5, 8, 8.5, 8, 8.5, 8, 8.5, 8, 8.5, 8,
            8.5, 8, 8.5, 8, 8.5, 8, 8.5, 8, 8.5, 8]
G_370_SP = [8, 8.5, 8, 8.5, 9, 8.5, 9, 8.5, 9, 8.5, 9, 8.5, 9, 8.5, 9, 8.5,
            8.5, 8, 8.5, 8, 8.5, 8, 8.5, 8, 8.5, 8,
            8, 8.5, 8, 8.5, 8, 8.5, 8, 8.5, 8, 8.5,
            8.5, 8, 8.5, 8, 8.5, 8, 8.5, 8, 8.5, 8,
            8.5, 8, 8.5, 8.5, 9, 8.5, 9, 8.5, 9, 8.5,
            9, 8.5, 9, 8.5, 9, 8.5, 9, 8.5, 9, 8.5,
            9, 8.5, 9, 8.5, 9, 8.5, 9, 8.5, 9, 8.5,
            9, 8.5, 9, 8.5, 9, 8.5, 9, 9, 9.5, 9]
G_585_SP = [9, 11, 9, 9, 9.5, 9, 9.5, 9, 9.5, 9, 9.5, 9, 9.5, 9, 9.5, 9,
            9, 9.5, 9, 9.5, 9, 9.5, 9, 9.5, 9, 9.5,
            9.5, 10, 9.5, 10, 9.5, 10, 10, 10.5, 10, 10.5,
            10, 10.5, 10, 10.5, 10.5, 11, 10.5, 11, 10.5, 11,
            11, 11.5, 11, 11.5, 11, 11.5, 11.5, 12, 11.5, 12,
            12, 12, 12.5, 12, 12.5, 12.5, 12, 12.5, 12.5, 13,
            12.5, 13, 12.5, 13, 13, 13.5, 13, 13.5, 13, 13.5,
            13, 13.5, 13, 13.5, 13.5, 13, 13.9, 13.5, 13.5, 13.5]

panels = [
    ('(a) P Multi-Model Trend (SSP Scenarios)', 'Precipitation (mm)',
     P_HIST, P_HIST_LO, P_HIST_HI, [P_126, P_245, P_370, P_585],
     [P_126_SP, P_245_SP, P_370_SP, P_585_SP]),
    ('(b) T Multi-Model Trend (SSP Scenarios)', 'Temperature (°C)',
     T_HIST, T_HIST_LO, T_HIST_HI, [T_126, T_245, T_370, T_585],
     [T_126_SP, T_245_SP, T_370_SP, T_585_SP]),
    ('(c) Q_sim Multi-Model Trend (SSP Scenarios)', 'Runoff (mm)',
     Q_HIST, Q_HIST_LO, Q_HIST_HI, [Q_126, Q_245, Q_370, Q_585],
     [Q_126_SP, Q_245_SP, Q_370_SP, Q_585_SP]),
    ('(d) Q_snow Multi-Model Trend (SSP Scenarios)', 'Snow Runoff (mm)',
     S_HIST, S_HIST_LO, S_HIST_HI, [S_126, S_245, S_370, S_585],
     [S_126_SP, S_245_SP, S_370_SP, S_585_SP]),
    ('(e) Q_glacier Multi-Model Trend (SSP Scenarios)', 'Glacier Runoff (mm)',
     G_HIST, G_HIST_LO, G_HIST_HI, [G_126, G_245, G_370, G_585],
     [G_126_SP, G_245_SP, G_370_SP, G_585_SP]),
]

plt.rcParams['font.family'] = ['DejaVu Sans']

fig, axs = plt.subplots(5, 1, figsize=(8.52, 15.757), dpi=300)
fig.subplots_adjust(left=0.1135, right=0.9894, top=0.9784, bottom=0.0372, hspace=0.4006)

for ax, (title, ylab, h, hlo, hhi, means, spreads) in zip(axs, panels):
    # historical band and mean
    ax.fill_between(years_hist, hlo, hhi, color='gray', alpha=0.3)
    ax.plot(years_hist, h, color='black', lw=1.4, label='Historical (1981–2014)')
    # scenario bands and means
    for name, c, m, s in zip(scenarios, colors, means, spreads):
        assert len(m) == 86 and len(s) == 86, (title, name, len(m), len(s))
        m = np.array(m, dtype=float)
        s = np.array(s, dtype=float)
        ax.fill_between(years_ssp, m - s, m + s, color=c, alpha=0.3)
        ax.plot(years_ssp, m, color=c, lw=1.4, label=name)
    ax.set_title(title, fontsize=15)
    ax.set_ylabel(ylab, fontsize=13)
    ax.tick_params(labelsize=14.5)
    ax.grid(True)
    ax.legend(loc='upper left', frameon=False, fontsize=11.5, labelspacing=0.5)

axs[-1].set_xlabel('Year', fontsize=13)

fig.savefig('out.png', dpi=300)
